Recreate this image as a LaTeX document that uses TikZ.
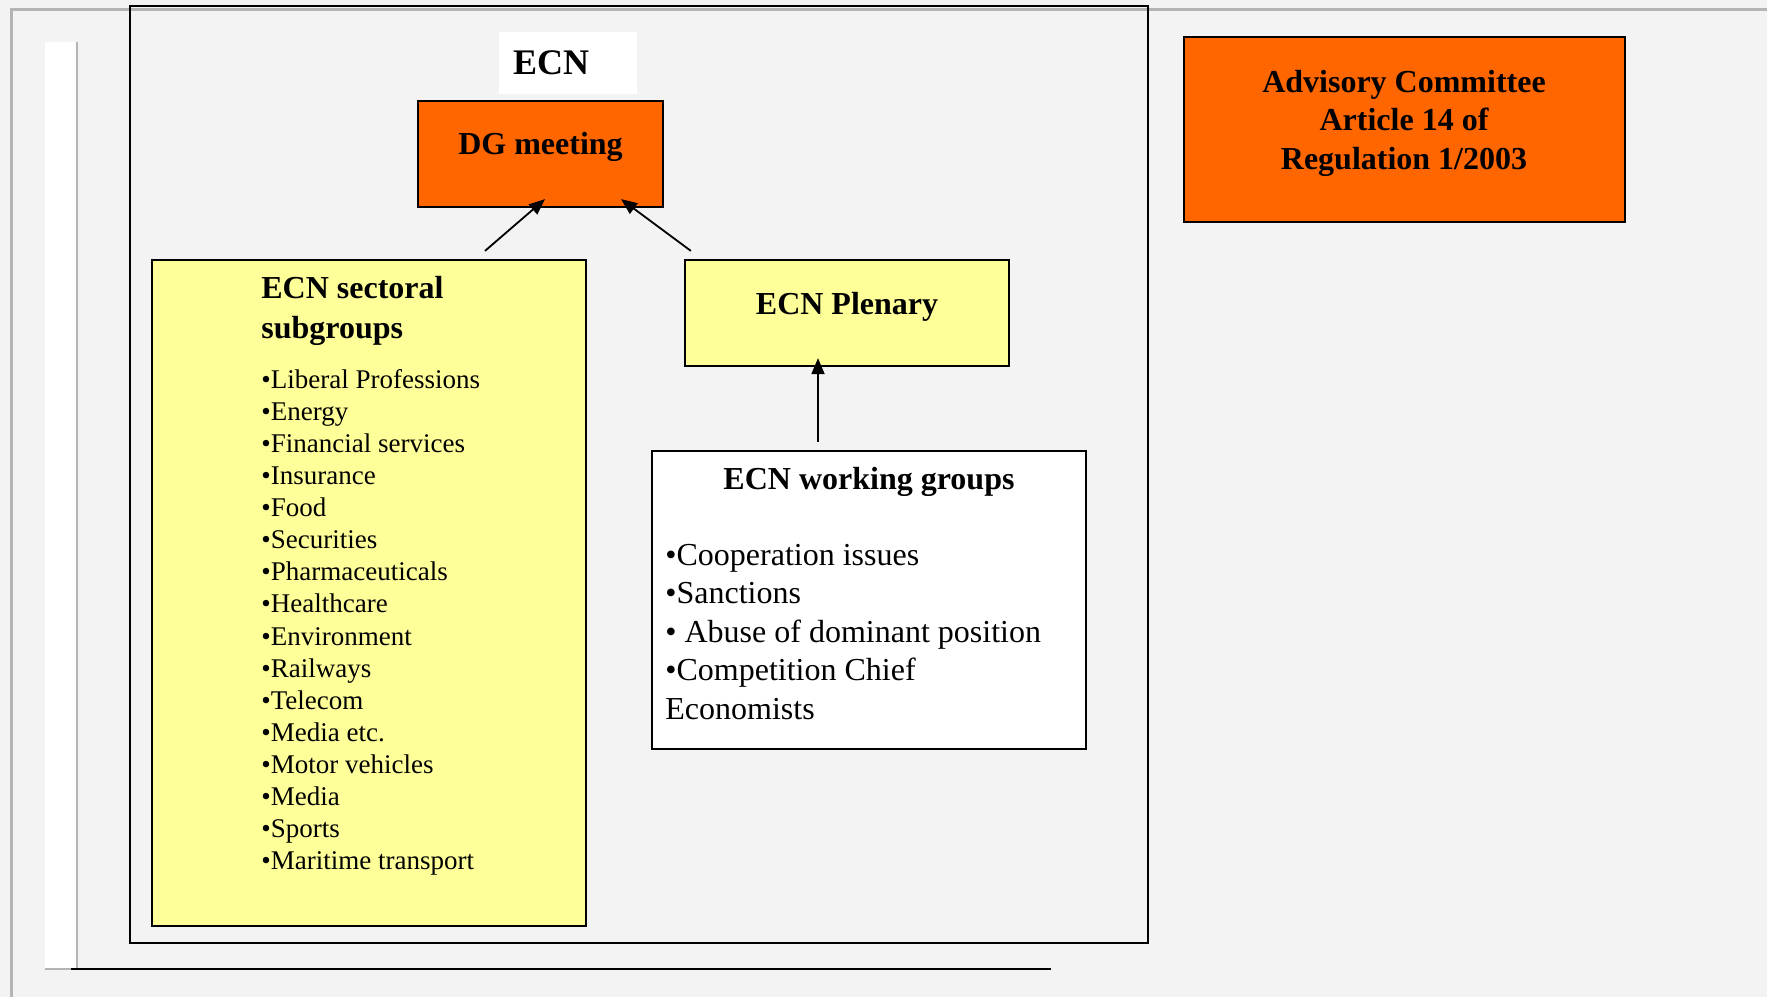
\documentclass[tikz,border=0pt]{standalone}
\usepackage{fontspec}
\setmainfont{Liberation Serif}
\usetikzlibrary{arrows.meta,calc,fit}

\definecolor{pagegray}{HTML}{F3F3F3}
\definecolor{framegray}{HTML}{B4B4B4}
\definecolor{dgorange}{HTML}{FF6600}
\definecolor{subyellow}{HTML}{FFFF99}

\begin{document}
\begin{tikzpicture}
  [x=0.5pt,y=-0.5pt,
   box/.style={draw=black,line width=1.1pt,inner sep=0pt},
   arr/.style={-{Triangle[length=8pt,width=6.5pt]},line width=0.9pt},
   head/.style={inner sep=0pt,font=\fontsize{16}{20}\selectfont\bfseries},
   sitem/.style={inner sep=0pt,anchor=base west,font=\fontsize{13.5}{16}\selectfont},
   witem/.style={inner sep=0pt,anchor=base west,font=\fontsize{16}{19.25}\selectfont}]

  % page and frame
  \fill[pagegray] (0,0) rectangle (1767,997);
  \useasboundingbox (0,0) rectangle (1767,997);
  \draw[framegray,line width=1.5pt] (11,997) -- (11,9) -- (1767,9);
  \fill[white] (45,42) rectangle (77,969);
  \draw[framegray,line width=1pt] (77,42) -- (77,969) -- (45,969);
  \draw[line width=1.1pt] (71,969) -- (1051,969);

  % boxes
  \node[box,line width=1pt,fit={(130,6) (1148,943)}] (ecn) {};
  \node[inner sep=0pt,fill=white,fit={(499,32) (637,94)}] (ecnlab) {};
  \node[inner sep=0pt,anchor=base,font=\fontsize{18}{22}\selectfont\bfseries] (ecntxt) at (551,74) {ECN};

  \node[box,fill=dgorange,fit={(418,101) (663,207)}] (dg) {};
  \node[head,anchor=base] (dgtxt) at (540.5,154) {DG meeting};

  \node[box,fill=subyellow,fit={(152,260) (586,926)}] (sect) {};
  \node[head,align=left,anchor=north west] (secttxt) at (261,276) {ECN sectoral\\subgroups};
  \foreach \s [count=\i from 0] in {Liberal Professions,Energy,Financial services,Insurance,Food,Securities,Pharmaceuticals,Healthcare,Environment,Railways,Telecom,Media etc.,Motor vehicles,Media,Sports,Maritime transport}
    \node[sitem] (sub\i) at (261,{388+32.13*\i}) {•\s};

  \node[box,fill=subyellow,fit={(685,260) (1009,366)}] (plen) {};
  \node[head,anchor=base] (plentxt) at (847,314) {ECN Plenary};

  \node[box,fill=white,fit={(652,451) (1086,749)}] (wg) {};
  \node[head,anchor=base] (wgtxt) at (869,489) {ECN working groups};
  \foreach \w [count=\i from 0] in {•Cooperation issues,•Sanctions,• Abuse of dominant position,•Competition Chief,Economists}
    \node[witem] (wg\i) at (665,{565+38.5*\i}) {\w};

  \node[box,fill=dgorange,fit={(1184,37) (1625,222)}] (adv) {};
  \node[head,align=center,font=\fontsize{16}{19.25}\selectfont\bfseries] (advtxt) at (1404,123) {Advisory Committee\\Article 14 of\\Regulation 1/2003};

  % arrows
  \draw[arr] ($(sect.north)+(116,-8)$) -- ($(dg.south)+(4.5,-9)$);
  \draw[arr] ($(plen.north west)+(7,-8)$) -- ($(dg.south)+(80.5,-9)$);
  \draw[arr] ($(wg.north)+(-51,-8)$) -- ($(plen.south)+(-29,-9)$);

\end{tikzpicture}
\end{document}
